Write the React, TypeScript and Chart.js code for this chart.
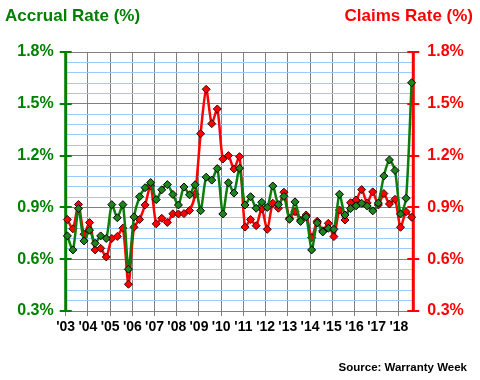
import React, { useEffect, useRef } from 'react';
import { Chart, registerables } from 'chart.js';

Chart.register(...registerables);

// ---- data (quarterly, 2003 Q1 .. 2018 Q3) ----
const yearLabels = ["'03", "'04", "'05", "'06", "'07", "'08", "'09", "'10", "'11", "'12", "'13", "'14", "'15", "'16", "'17", "'18"];

const accrualRate = [
  0.735, 0.654, 0.893, 0.706, 0.768, 0.692, 0.735, 0.72, 0.916, 0.84, 0.916, 0.542,
  0.845, 0.962, 1.014, 1.044, 0.945, 1.002, 1.032, 0.975, 0.914, 1.018, 0.973, 1.031,
  0.881, 1.075, 1.058, 1.125, 0.862, 1.043, 0.983, 1.127, 0.914, 0.962, 0.895, 0.93,
  0.9, 1.024, 0.916, 0.964, 0.831, 0.932, 0.819, 0.845, 0.654, 0.81, 0.758, 0.779,
  0.773, 0.976, 0.856, 0.893, 0.909, 0.924, 0.908, 0.88, 0.925, 1.082, 1.175, 1.114,
  0.862, 0.953, 1.622,
];

const claimsRate = [
  0.83, 0.776, 0.917, 0.745, 0.812, 0.654, 0.663, 0.613, 0.72, 0.732, 0.78, 0.455,
  0.785, 0.83, 0.914, 1.025, 0.805, 0.837, 0.813, 0.863, 0.862, 0.864, 0.882, 0.976,
  1.327, 1.584, 1.385, 1.47, 1.18, 1.2, 1.123, 1.194, 0.786, 0.83, 0.794, 0.891,
  0.773, 0.924, 0.895, 0.988, 0.837, 0.875, 0.827, 0.856, 0.725, 0.82, 0.765, 0.808,
  0.731, 0.885, 0.827, 0.927, 0.943, 1.003, 0.926, 0.99, 0.914, 0.98, 0.92, 0.947,
  0.785, 0.875, 0.843,
];

const axisMin = 0.3;
const axisMax = 1.8;
const minorStep = 0.06;
const majorStep = 0.3;

// ---- styles ----
const GREEN = '#008000';
const RED = '#FF0000';
const GRID_GRAY = '#808080';
const GRID_BLUE = '#99CCFF';
const FONT = "'Liberation Sans', Arial, sans-serif";

const isMajor = (v: number) => Math.abs(v / majorStep - Math.round(v / majorStep)) < 1e-6;

const decorPlugin = {
  id: 'decor',
  beforeDatasetsDraw(chart: any) {
    const { ctx, chartArea: a, scales } = chart;
    const ys = scales.y;
    ctx.save();
    const drawAxis = (x: number, color: string) => {
      ctx.strokeStyle = color;
      ctx.lineWidth = 3;
      ctx.beginPath();
      ctx.moveTo(x, a.top - 1);
      ctx.lineTo(x, a.bottom + 1);
      ctx.stroke();
      ctx.lineWidth = 2;
      ys.ticks.forEach((t: any) => {
        if (!isMajor(t.value)) return;
        const py = Math.round(ys.getPixelForValue(t.value));
        ctx.beginPath();
        ctx.moveTo(x - 6, py);
        ctx.lineTo(x + 6, py);
        ctx.stroke();
      });
    };
    drawAxis(a.left, GREEN);
    drawAxis(a.right, RED);
    ctx.restore();
  },
  afterDraw(chart: any) {
    const { ctx } = chart;
    ctx.save();
    ctx.textBaseline = 'alphabetic';
    ctx.font = `bold 17px ${FONT}`;
    ctx.fillStyle = GREEN;
    ctx.textAlign = 'left';
    ctx.fillText('Accrual Rate (%)', 5, 21);
    ctx.fillStyle = RED;
    ctx.textAlign = 'right';
    ctx.fillText('Claims Rate (%)', 473, 21);
    ctx.font = `bold 11.5px ${FONT}`;
    ctx.fillStyle = '#000';
    ctx.fillText('Source: Warranty Week', 467, 371);
    ctx.restore();
  },
};

export default function App() {
  const canvasRef = useRef<HTMLCanvasElement | null>(null);

  useEffect(() => {
    if (!canvasRef.current) return;
    const yTickCallback = (v: any) => (isMajor(Number(v)) ? Number(v).toFixed(1) + '%' : '');
    const chart = new Chart(canvasRef.current, {
      type: 'line',
      data: {
        datasets: [
          {
            label: 'Accrual Rate (%)',
            data: accrualRate.map((v, i) => ({ x: i, y: v })),
            yAxisID: 'y',
            borderColor: '#0A7D0A',
            borderWidth: 2.5,
            pointStyle: 'rectRot',
            pointRadius: 4,
            pointBackgroundColor: '#1C861C',
            pointBorderColor: '#000000',
            pointBorderWidth: 1,
            tension: 0.25,
            clip: false as any,
          },
          {
            label: 'Claims Rate (%)',
            data: claimsRate.map((v, i) => ({ x: i, y: v })),
            yAxisID: 'y1',
            borderColor: RED,
            borderWidth: 2.5,
            pointStyle: 'rectRot',
            pointRadius: 4,
            pointBackgroundColor: RED,
            pointBorderColor: '#400000',
            pointBorderWidth: 1,
            tension: 0.25,
            clip: false as any,
          },
        ],
      },
      options: {
        responsive: false,
        animation: false,
        devicePixelRatio: 1,
        layout: { padding: { top: 52, left: 0, right: 0, bottom: 0 } },
        plugins: { legend: { display: false }, tooltip: { enabled: false }, title: { display: false } },
        scales: {
          x: {
            type: 'linear',
            min: -0.3,
            max: accrualRate.length - 1 + 0.3,
            afterBuildTicks: (s: any) => {
              s.ticks = yearLabels.map((_, k) => ({ value: k * 4 - 0.3 }));
            },
            afterFit: (s: any) => {
              s.height = 69;
            },
            ticks: {
              autoSkip: false,
              maxRotation: 0,
              minRotation: 0,
              padding: 3,
              color: '#000',
              font: { family: FONT, size: 14, weight: 'bold' },
              callback: (_v: any, i: number) => yearLabels[i],
            },
            grid: { color: GRID_GRAY, lineWidth: 1, drawTicks: true, tickLength: 5, tickColor: GRID_GRAY },
            border: { display: false },
          },
          y: {
            type: 'linear',
            position: 'left',
            min: axisMin,
            max: axisMax,
            afterFit: (s: any) => {
              s.width = 65.7;
            },
            ticks: {
              stepSize: minorStep,
              autoSkip: false,
              maxTicksLimit: 100,
              padding: 12,
              color: GREEN,
              font: { family: FONT, size: 16, weight: 'bold' },
              callback: yTickCallback,
            },
            grid: {
              drawTicks: false,
              lineWidth: 1,
              color: (ctx: any) => (ctx.tick && isMajor(ctx.tick.value) ? GRID_GRAY : GRID_BLUE),
            },
            border: { display: false },
          },
          y1: {
            type: 'linear',
            position: 'right',
            min: axisMin,
            max: axisMax,
            afterFit: (s: any) => {
              s.width = 66.7;
            },
            ticks: {
              stepSize: minorStep,
              autoSkip: false,
              maxTicksLimit: 100,
              padding: 14,
              color: RED,
              font: { family: FONT, size: 16, weight: 'bold' },
              callback: yTickCallback,
            },
            grid: { display: false, drawTicks: false },
            border: { display: false },
          },
        },
      },
      plugins: [decorPlugin],
    } as any);
    return () => chart.destroy();
  }, []);

  return (
    <div style={{ position: 'absolute', left: 0, top: 0, width: 480, height: 380, background: '#fff' }}>
      <canvas ref={canvasRef} width={480} height={380} style={{ display: 'block', width: 480, height: 380 }} />
    </div>
  );
}
